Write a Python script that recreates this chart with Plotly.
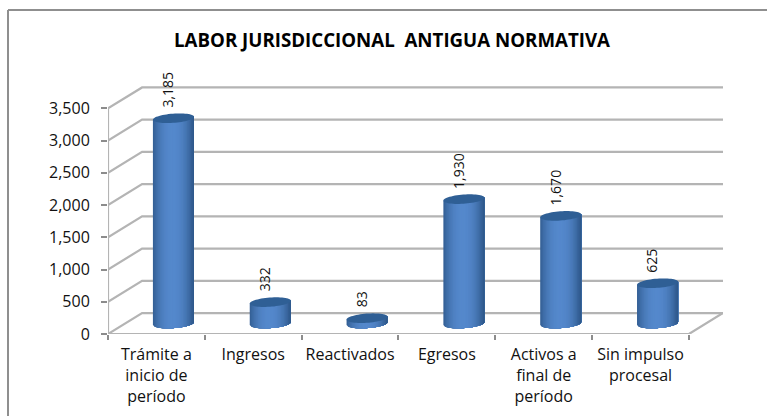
import plotly.graph_objects as go
import numpy as np

categories = ["Trámite a<br>inicio de<br>período", "Ingresos", "Reactivados", "Egresos",
              "Activos a<br>final de<br>período", "Sin impulso<br>procesal"]
values = [3185, 332, 83, 1930, 1670, 625]
value_labels = ["3,185", "332", "83", "1,930", "1,670", "625"]
grid_values = [0, 500, 1000, 1500, 2000, 2500, 3000, 3500]
title_text = "LABOR JURISDICCIONAL  ANTIGUA NORMATIVA"

# oblique depth, in axis units
DX, DY = 0.352, 325.0
PX_X, PX_Y = 96.83, 0.06446      # pixels per axis unit
R = 0.212                        # cylinder radius in category units
RY = 4.6 / PX_Y                  # ellipse half height in value units
TILT = 0.07 * PX_X / PX_Y        # ellipse tilt, value units per category unit

GRID = "#b4b4b4"
fig = go.Figure()


def line(xs, ys, color=GRID, width=2.2):
    fig.add_trace(go.Scatter(x=xs, y=ys, mode="lines", line=dict(color=color, width=width),
                             hoverinfo="skip", showlegend=False, cliponaxis=False))


for v in grid_values:
    line([0, DX, 6 + DX], [v, v + DY, v + DY])
line([0, 6, 6 + DX], [0, 0, DY])
line([0, 0], [0, 3500])

# cylinders built from shaded vertical strips, painted left to right
N = 30
dark = np.array([47, 89, 140])
light = np.array([84, 136, 204])
edges = np.linspace(-1, 1, N + 1)
for i, v in enumerate(values):
    cx = i + 0.5 + DX / 2
    by = DY / 2
    ty = by + v
    for k in range(N):
        a = edges[k]
        t = (edges[k] + edges[k + 1]) / 2
        s = np.clip(1 - abs(t + 0.05) ** 2.2, 0, 1)
        c = dark + (light - dark) * s
        us = np.linspace(a, 1, 24)
        xs = cx + R * us
        low = by - RY * np.sqrt(1 - us ** 2) + TILT * R * us
        top = ty + TILT * R * us
        col = f"rgb({c[0]:.0f},{c[1]:.0f},{c[2]:.0f})"
        fig.add_trace(go.Scatter(
            x=np.r_[xs, xs[::-1], xs[0]], y=np.r_[top, low[::-1], top[0]],
            mode="none", fill="toself", fillcolor=col,
            hoverinfo="skip", showlegend=False, cliponaxis=False))
    th = np.linspace(0, 2 * np.pi, 60)
    ex = cx + R * np.cos(th)
    ey = ty + RY * np.sin(th) + TILT * R * np.cos(th)
    fig.add_trace(go.Scatter(x=ex, y=ey, mode="none", fill="toself", fillcolor="#2f5f95",
                             hoverinfo="skip", showlegend=False, cliponaxis=False))
    fig.add_annotation(x=cx, y=ty + RY, xshift=-5.5, yshift=4, text=value_labels[i], textangle=-90,
                       showarrow=False, yanchor="bottom", xanchor="center",
                       font=dict(family="Open Sans", size=14, color="#111111"))

fig.update_xaxes(range=[0, 6 + DX], tickvals=[i + 0.5 for i in range(6)], ticktext=categories,
                 ticks="", showgrid=False, zeroline=False, showline=False, automargin=False,
                 tickfont=dict(family="Open Sans", size=16, color="#111111"), ticklabelstandoff=9,
                 tickangle=0,
                 minor=dict(tickvals=list(range(7)), ticks="outside", ticklen=5, tickcolor="#8c8c8c",
                            tickwidth=1.5, showgrid=False))
fig.update_yaxes(range=[0, 248 / PX_Y], tickvals=grid_values, tickformat=",d",
                 ticks="outside", ticklen=6, tickcolor="#8c8c8c", tickwidth=1.5,
                 showgrid=False, zeroline=False, showline=False, automargin=False,
                 ticklabelstandoff=8,
                 tickfont=dict(family="Open Sans", size=16, color="#111111"))

PLOT_W, PLOT_H = 767 - 108 - 44, 416 - 86 - 82
fx = lambda px: (px - 108) / PLOT_W
fy = lambda py: (334 - py) / PLOT_H
border = dict(color="#8f8f8f", width=2)
fig.update_layout(
    width=767, height=416, autosize=False, paper_bgcolor="white", plot_bgcolor="white",
    margin=dict(l=108, r=44, t=86, b=82), showlegend=False,
    title=dict(text="<b>" + title_text + "</b>", x=392 / 767, y=1 - 40 / 416, xanchor="center", yanchor="middle",
               automargin=False, font=dict(family="Open Sans", size=18.7, color="#000000")),
    shapes=[
        dict(type="line", xref="paper", yref="paper", x0=fx(8), x1=fx(8), y0=fy(416), y1=fy(10), line=border),
        dict(type="line", xref="paper", yref="paper", x0=fx(8), x1=fx(767), y0=fy(10), y1=fy(10), line=border),
    ],
)
fig.write_html("out.html", config={"displayModeBar": False},
               post_script="document.body.style.margin='0';document.body.style.overflow='hidden';")
